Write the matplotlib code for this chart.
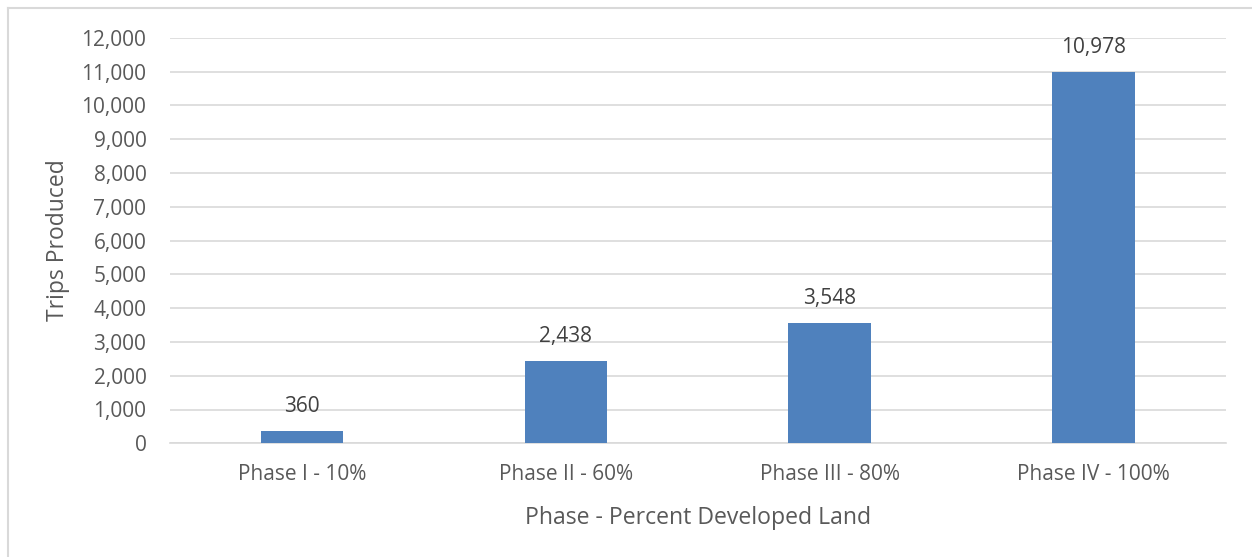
import matplotlib.pyplot as plt
from matplotlib.lines import Line2D
from matplotlib.ticker import FuncFormatter, MultipleLocator

plt.rcParams['font.family'] = ['Open Sans', 'DejaVu Sans']

phases = ['Phase I - 10%', 'Phase II - 60%', 'Phase III - 80%', 'Phase IV - 100%']
trips = [360, 2438, 3548, 10978]

bar_color = '#4F81BD'
text_color = '#595959'
grid_color = '#D9D9D9'

W, H = 1252, 557
fig = plt.figure(figsize=(W / 100, H / 100), dpi=100)
ax = fig.add_axes([170 / W, (H - 443.3) / H, 1055.6 / W, 405.6 / H])

x = range(len(phases))
bars = ax.bar(x, trips, width=0.313, color=bar_color, zorder=3)

for xi, v in zip(x, trips):
    ax.annotate(f'{v:,}', (xi, v), xytext=(0, 10), textcoords='offset points',
                ha='center', va='bottom', fontsize=15, color='#404040')

ax.set_xlim(-0.5, len(phases) - 0.5)
ax.set_ylim(0, 12000)
ax.yaxis.set_major_locator(MultipleLocator(1000))
ax.yaxis.set_major_formatter(FuncFormatter(lambda v, p: f'{v:,.0f}'))
ax.set_xticks(list(x))
ax.set_xticklabels(phases)

ax.grid(axis='y', color=grid_color, linewidth=1.2, zorder=0)
for s in ['top', 'right', 'left']:
    ax.spines[s].set_visible(False)
ax.spines['bottom'].set_color(grid_color)
ax.spines['bottom'].set_linewidth(1.2)
ax.tick_params(axis='both', length=0, labelsize=15, labelcolor=text_color)
ax.tick_params(axis='y', pad=17)
ax.tick_params(axis='x', pad=15)

ax.set_xlabel('Phase - Percent Developed Land', fontsize=16.6, color=text_color, labelpad=15)
ax.set_ylabel('Trips Produced', fontsize=16.5, color=text_color, labelpad=8)

# outer chart frame (left and top edges only)
fig.add_artist(Line2D([7.5 / W, 7.5 / W], [0, 1 - 8 / H], transform=fig.transFigure,
                      color=grid_color, linewidth=1.5))
fig.add_artist(Line2D([7.5 / W, 1], [1 - 8 / H, 1 - 8 / H], transform=fig.transFigure,
                      color=grid_color, linewidth=1.5))

fig.savefig('out.png', dpi=100, facecolor='white')
